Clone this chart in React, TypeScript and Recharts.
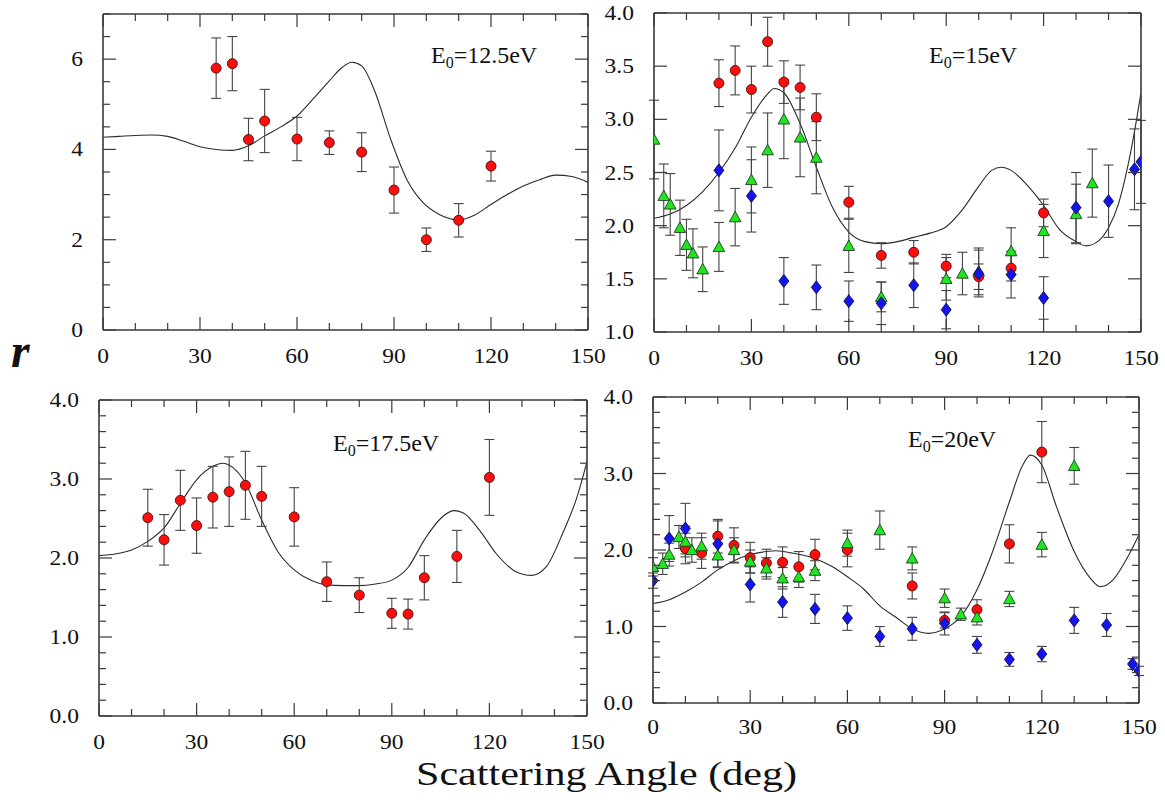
import React from 'react';
import { ComposedChart, Line, Scatter, XAxis, YAxis, ErrorBar } from 'recharts';

const FONT = '"Liberation Serif", "Times New Roman", Times, serif';
const INK = '#3a3a3a';

// ---------- shared ticks ----------
const X_TICKS = [0, 10, 20, 30, 40, 50, 60, 70, 80, 90, 100, 110, 120, 130, 140, 150];
const Y_TICKS_125 = [0, 0.5, 1, 1.5, 2, 2.5, 3, 3.5, 4, 4.5, 5, 5.5, 6, 6.5, 7];
const Y_TICKS_15 = [1, 1.5, 2, 2.5, 3, 3.5, 4];
const Y_TICKS_FINE = [0, 0.2, 0.4, 0.6, 0.8, 1, 1.2, 1.4, 1.6, 1.8, 2, 2.2, 2.4, 2.6, 2.8, 3, 3.2, 3.4, 3.6, 3.8, 4];

// ---------- E0 = 12.5 eV ----------
const e125Angles = [35, 40, 45, 50, 60, 70, 80, 90, 100, 110, 120];
const e125Red = [5.8, 5.9, 4.22, 4.63, 4.23, 4.15, 3.94, 3.1, 2.0, 2.43, 3.63];
const e125RedErr = [0.67, 0.6, 0.47, 0.7, 0.48, 0.26, 0.43, 0.51, 0.26, 0.37, 0.33];
const e125CurveX = [0, 5, 10, 15, 20, 25, 30, 35, 40, 45, 50, 55, 60, 65, 70, 74, 77, 80, 84, 89, 94, 99, 104, 110, 115, 120, 125, 130, 135, 140, 145, 150];
const e125CurveY = [4.27, 4.29, 4.31, 4.32, 4.29, 4.18, 4.06, 4.0, 3.98, 4.08, 4.3, 4.5, 4.74, 5.12, 5.52, 5.82, 5.93, 5.85, 5.3, 4.22, 3.33, 2.82, 2.56, 2.44, 2.55, 2.78, 3.0, 3.19, 3.33, 3.43, 3.4, 3.27];

// ---------- E0 = 15 eV ----------
const e15RedX = [20, 25, 30, 35, 40, 45, 50, 60, 70, 80, 90, 100, 110, 120];
const e15Red = [3.34, 3.46, 3.28, 3.73, 3.35, 3.3, 3.02, 2.22, 1.72, 1.75, 1.62, 1.52, 1.6, 2.12];
const e15RedErr = [0.22, 0.23, 0.22, 0.23, 0.2, 0.21, 0.22, 0.15, 0.12, 0.11, 0.11, 0.12, 0.12, 0.13];
const e15GreenX = [0, 3, 5, 8, 10, 12, 15, 20, 25, 30, 35, 40, 45, 50, 60, 70, 90, 95, 100, 110, 120, 130, 135];
const e15Green = [2.81, 2.28, 2.2, 1.98, 1.82, 1.74, 1.59, 1.8, 2.08, 2.43, 2.71, 3.0, 2.83, 2.64, 1.81, 1.33, 1.5, 1.55, 1.57, 1.76, 1.95, 2.11, 2.4];
const e15GreenErr = [0.37, 0.3, 0.29, 0.26, 0.24, 0.23, 0.21, 0.23, 0.27, 0.31, 0.35, 0.37, 0.37, 0.34, 0.25, 0.14, 0.2, 0.2, 0.22, 0.22, 0.25, 0.28, 0.32];
const e15BlueX = [20, 30, 40, 50, 60, 70, 80, 90, 100, 110, 120, 130, 140, 148, 150];
const e15Blue = [2.52, 2.28, 1.48, 1.42, 1.29, 1.27, 1.44, 1.21, 1.55, 1.54, 1.32, 2.17, 2.23, 2.53, 2.6];
const e15BlueErr = [0.38, 0.34, 0.22, 0.21, 0.19, 0.2, 0.21, 0.18, 0.22, 0.22, 0.2, 0.33, 0.34, 0.38, 0.39];
const e15CurveX = [0, 5, 10, 15, 20, 25, 30, 35, 37, 40, 45, 50, 55, 60, 65, 70, 75, 80, 85, 90, 95, 100, 104, 107, 110, 115, 120, 125, 130, 133, 137, 140, 143, 147, 150];
const e15CurveY = [2.07, 2.11, 2.19, 2.32, 2.5, 2.73, 3.02, 3.24, 3.29, 3.25, 2.96, 2.55, 2.17, 1.94, 1.85, 1.83, 1.85, 1.89, 1.93, 1.99, 2.15, 2.37, 2.52, 2.55, 2.52, 2.38, 2.19, 1.96, 1.85, 1.81, 1.86, 1.98, 2.2, 2.72, 3.25];

// ---------- E0 = 17.5 eV ----------
const e175Angles = [15, 20, 25, 30, 35, 40, 45, 50, 60, 70, 80, 90, 95, 100, 110, 120];
const e175Red = [2.51, 2.23, 2.73, 2.41, 2.77, 2.84, 2.92, 2.78, 2.52, 1.7, 1.53, 1.3, 1.29, 1.75, 2.02, 3.02];
const e175RedErr = [0.36, 0.32, 0.38, 0.35, 0.39, 0.44, 0.43, 0.38, 0.37, 0.25, 0.22, 0.19, 0.19, 0.28, 0.33, 0.48];
const e175CurveX = [0, 5, 10, 15, 20, 25, 30, 35, 38, 41, 45, 50, 55, 60, 65, 70, 75, 80, 85, 90, 95, 100, 105, 109, 112, 117, 122, 128, 133, 137.5, 142.5, 147, 150];
const e175CurveY = [2.03, 2.05, 2.1, 2.21, 2.38, 2.69, 2.99, 3.16, 3.2, 3.15, 2.95, 2.48, 2.08, 1.85, 1.72, 1.66, 1.65, 1.65, 1.67, 1.72, 1.88, 2.23, 2.5, 2.6, 2.57, 2.35, 2.06, 1.83, 1.78, 1.89, 2.31, 2.78, 3.22];

// ---------- E0 = 20 eV ----------
const e20RedX = [10, 15, 20, 25, 30, 35, 40, 45, 50, 60, 80, 90, 100, 110, 120];
const e20Red = [2.02, 1.96, 2.18, 2.06, 1.9, 1.83, 1.84, 1.78, 1.94, 2.0, 1.53, 1.08, 1.22, 2.08, 3.28];
const e20RedErr = [0.2, 0.2, 0.22, 0.23, 0.2, 0.18, 0.2, 0.2, 0.2, 0.22, 0.17, 0.1, 0.13, 0.25, 0.4];
const e20GreenX = [0, 3, 5, 8, 10, 12, 15, 20, 25, 30, 35, 40, 45, 50, 60, 70, 80, 90, 95, 100, 110, 120, 130];
const e20Green = [1.78, 1.82, 1.94, 2.17, 2.11, 2.0, 2.05, 1.93, 2.0, 1.85, 1.76, 1.63, 1.65, 1.73, 2.09, 2.26, 1.89, 1.37, 1.16, 1.12, 1.36, 2.07, 3.1];
const e20GreenErr = [0.12, 0.14, 0.15, 0.15, 0.2, 0.16, 0.17, 0.16, 0.16, 0.15, 0.14, 0.14, 0.14, 0.13, 0.17, 0.25, 0.15, 0.12, 0.08, 0.1, 0.1, 0.16, 0.24];
const e20BlueX = [0, 5, 10, 20, 30, 40, 50, 60, 70, 80, 90, 100, 110, 120, 130, 140, 148, 150];
const e20Blue = [1.6, 2.15, 2.28, 2.08, 1.55, 1.32, 1.23, 1.11, 0.87, 0.97, 1.04, 0.76, 0.57, 0.64, 1.08, 1.02, 0.51, 0.42];
const e20BlueErr = [0.1, 0.3, 0.33, 0.3, 0.23, 0.2, 0.19, 0.16, 0.13, 0.15, 0.15, 0.11, 0.09, 0.1, 0.17, 0.15, 0.07, 0.06];
const e20CurveX = [0, 5, 10, 15, 20, 25, 30, 35, 38, 43, 50, 55, 60, 65, 70, 75, 80, 85, 90, 95, 100, 105, 110, 114, 116.5, 120, 124.5, 130, 135, 138, 142, 146, 150];
const e20CurveY = [1.3, 1.35, 1.45, 1.58, 1.74, 1.86, 1.94, 1.98, 1.99, 1.96, 1.89, 1.79, 1.65, 1.49, 1.27, 1.12, 0.97, 0.91, 0.97, 1.13, 1.48, 2.0, 2.63, 3.1, 3.24, 3.11, 2.57, 1.98, 1.63, 1.52, 1.61, 1.87, 2.2];

type Pt = { x: number; y: number; e?: number };
const zip = (xs: number[], ys: number[], es?: number[]): Pt[] =>
  xs.map((x, i) => ({ x, y: ys[i], e: es ? es[i] : undefined }));

// ---------- markers ----------
const RedCircle = (p: any) => (
  <circle cx={p.cx} cy={p.cy} r={5} fill="#ff0d0d" stroke="#4a1010" strokeWidth={0.9} />
);
const GreenTri = (p: any) => {
  const s = 5.8;
  return (
    <polygon
      points={`${p.cx},${p.cy - s} ${p.cx + s},${p.cy + s * 0.8} ${p.cx - s},${p.cy + s * 0.8}`}
      fill="#1fe61f"
      stroke="#1f3a1f"
      strokeWidth={0.9}
    />
  );
};
const BlueDia = (p: any) => {
  const w = 5, h = 6.5;
  return (
    <polygon
      points={`${p.cx},${p.cy - h} ${p.cx + w},${p.cy} ${p.cx},${p.cy + h} ${p.cx - w},${p.cy}`}
      fill="#1414ee"
      stroke="#10104a"
      strokeWidth={0.9}
    />
  );
};

// ---------- tick renderers ----------
const isMult = (v: number, m: number) => Math.abs(v / m - Math.round(v / m)) < 1e-6;
const MAJ = 13;
const MIN = 7;
const STRETCH = 1.12;

const Label = ({ x, y, anchor, children }: { x: number; y: number; anchor: 'start' | 'middle' | 'end'; children: any }) => (
  <text
    transform={`translate(${x},${y}) scale(${STRETCH},1)`}
    x={0}
    y={0}
    textAnchor={anchor}
    fontSize={21}
    fontFamily={FONT}
    fill="#111"
  >
    {children}
  </text>
);

const makeBottomTick = (labelDy: number) => (p: any) => {
  const v = p.payload.value;
  const major = isMult(v, 30);
  return (
    <g>
      <line x1={p.x} x2={p.x} y1={p.y} y2={p.y - (major ? MAJ : MIN)} stroke={INK} strokeWidth={1.2} />
      {major && (
        <Label x={p.x} y={p.y + labelDy} anchor="middle">
          {v}
        </Label>
      )}
    </g>
  );
};
const TopTick = (p: any) => {
  const v = p.payload.value;
  const major = isMult(v, 30);
  return <line x1={p.x} x2={p.x} y1={p.y} y2={p.y + (major ? MAJ : MIN)} stroke={INK} strokeWidth={1.2} />;
};
const makeLeftTick = (majorStep: number, fmt: (v: number) => string) => (p: any) => {
  const v = p.payload.value;
  const major = isMult(v, majorStep);
  return (
    <g>
      <line x1={p.x} x2={p.x + (major ? MAJ : MIN)} y1={p.y} y2={p.y} stroke={INK} strokeWidth={1.2} />
      {major && (
        <Label x={p.x - 20} y={p.y + 7} anchor="end">
          {fmt(v)}
        </Label>
      )}
    </g>
  );
};
const makeRightTick = (majorStep: number) => (p: any) => {
  const v = p.payload.value;
  const major = isMult(v, majorStep);
  return <line x1={p.x} x2={p.x - (major ? MAJ : MIN)} y1={p.y} y2={p.y} stroke={INK} strokeWidth={1.2} />;
};

const AXIS_LINE = { stroke: INK, strokeWidth: 1.6 };

type PanelProps = {
  left: number;
  top: number;
  width: number;
  height: number;
  plot: { left: number; top: number; right: number; bottom: number };
  yDomain: [number, number];
  yTicks: number[];
  majorStep: number;
  fmt: (v: number) => string;
  labelDy: number;
  curve: Pt[];
  red?: Pt[];
  green?: Pt[];
  blue?: Pt[];
};

function Panel(props: PanelProps) {
  const { left, top, width, height, plot, yDomain, yTicks, majorStep, fmt, labelDy, curve, red, green, blue } = props;
  // each axis occupies 1px, so the margins are reduced by 1 to keep the plot box where we want it
  const margin = {
    left: plot.left - 1,
    top: plot.top - 1,
    right: width - plot.right - 1,
    bottom: height - plot.bottom - 1,
  };
  const errProps = { dataKey: 'e', direction: 'y' as const, width: 5, stroke: '#444', strokeWidth: 1.1 };
  return (
    <div style={{ position: 'absolute', left, top }}>
      <ComposedChart width={width} height={height} margin={margin}>
        <XAxis
          xAxisId="b"
          type="number"
          dataKey="x"
          domain={[0, 150]}
          allowDataOverflow
          ticks={X_TICKS}
          interval={0}
          height={1}
          tickSize={0}
          tickMargin={0}
          tickLine={false}
          axisLine={AXIS_LINE}
          tick={makeBottomTick(labelDy)}
        />
        <XAxis
          xAxisId="t"
          orientation="top"
          type="number"
          dataKey="x"
          domain={[0, 150]}
          allowDataOverflow
          ticks={X_TICKS}
          interval={0}
          height={1}
          tickSize={0}
          tickMargin={0}
          tickLine={false}
          axisLine={AXIS_LINE}
          tick={TopTick}
        />
        <YAxis
          yAxisId="l"
          type="number"
          dataKey="y"
          domain={yDomain}
          allowDataOverflow
          ticks={yTicks}
          interval={0}
          width={1}
          tickSize={0}
          tickMargin={0}
          tickLine={false}
          axisLine={AXIS_LINE}
          tick={makeLeftTick(majorStep, fmt)}
        />
        <YAxis
          yAxisId="r"
          orientation="right"
          type="number"
          dataKey="y"
          domain={yDomain}
          allowDataOverflow
          ticks={yTicks}
          interval={0}
          width={1}
          tickSize={0}
          tickMargin={0}
          tickLine={false}
          axisLine={AXIS_LINE}
          tick={makeRightTick(majorStep)}
        />
        <Line
          xAxisId="b"
          yAxisId="l"
          data={curve}
          dataKey="y"
          type="monotone"
          stroke="#2b2b2b"
          strokeWidth={1.1}
          dot={false}
          activeDot={false}
          isAnimationActive={false}
        />
        {red && (
          <Scatter xAxisId="b" yAxisId="l" data={red} dataKey="y" shape={RedCircle} isAnimationActive={false}>
            <ErrorBar {...errProps} />
          </Scatter>
        )}
        {green && (
          <Scatter xAxisId="b" yAxisId="l" data={green} dataKey="y" shape={GreenTri} isAnimationActive={false}>
            <ErrorBar {...errProps} />
          </Scatter>
        )}
        {blue && (
          <Scatter xAxisId="b" yAxisId="l" data={blue} dataKey="y" shape={BlueDia} isAnimationActive={false}>
            <ErrorBar {...errProps} />
          </Scatter>
        )}
      </ComposedChart>
    </div>
  );
}

const fmtInt = (v: number) => String(v);
const fmt1 = (v: number) => v.toFixed(1);

const Energy = ({ x, y, value }: { x: number; y: number; value: string }) => (
  <text x={x} y={y} fontSize={24} fontFamily={FONT} fill="#111">
    E
    <tspan fontSize={16} dy={5}>
      0
    </tspan>
    <tspan dy={-5}>={value}</tspan>
  </text>
);

export default function App() {
  return (
    <div style={{ position: 'absolute', left: 0, top: 0, width: 1165, height: 804, background: '#fff', overflow: 'hidden' }}>
      <Panel
        left={0}
        top={0}
        width={625}
        height={380}
        plot={{ left: 103, top: 14, right: 588, bottom: 330 }}
        yDomain={[0, 7]}
        yTicks={Y_TICKS_125}
        majorStep={2}
        fmt={fmtInt}
        labelDy={33}
        curve={zip(e125CurveX, e125CurveY)}
        red={zip(e125Angles, e125Red, e125RedErr)}
      />
      <Panel
        left={600}
        top={0}
        width={565}
        height={380}
        plot={{ left: 54, top: 13, right: 541, bottom: 332 }}
        yDomain={[1, 4]}
        yTicks={Y_TICKS_15}
        majorStep={0.5}
        fmt={fmt1}
        labelDy={33}
        curve={zip(e15CurveX, e15CurveY)}
        red={zip(e15RedX, e15Red, e15RedErr)}
        green={zip(e15GreenX, e15Green, e15GreenErr)}
        blue={zip(e15BlueX, e15Blue, e15BlueErr)}
      />
      <Panel
        left={0}
        top={380}
        width={625}
        height={390}
        plot={{ left: 99, top: 20, right: 587, bottom: 336 }}
        yDomain={[0, 4]}
        yTicks={Y_TICKS_FINE}
        majorStep={1}
        fmt={fmt1}
        labelDy={33}
        curve={zip(e175CurveX, e175CurveY)}
        red={zip(e175Angles, e175Red, e175RedErr)}
      />
      <Panel
        left={600}
        top={380}
        width={565}
        height={390}
        plot={{ left: 53, top: 17, right: 539, bottom: 323 }}
        yDomain={[0, 4]}
        yTicks={Y_TICKS_FINE}
        majorStep={1}
        fmt={fmt1}
        labelDy={31}
        curve={zip(e20CurveX, e20CurveY)}
        red={zip(e20RedX, e20Red, e20RedErr)}
        green={zip(e20GreenX, e20Green, e20GreenErr)}
        blue={zip(e20BlueX, e20Blue, e20BlueErr)}
      />
      <svg width={1165} height={804} style={{ position: 'absolute', left: 0, top: 0, pointerEvents: 'none' }}>
        <Energy x={431} y={63} value="12.5eV" />
        <Energy x={929} y={63} value="15eV" />
        <Energy x={333} y={451} value="17.5eV" />
        <Energy x={908} y={447} value="20eV" />
        <text x={11} y={367} fontSize={48} fontStyle="italic" fontWeight="bold" fontFamily={FONT} fill="#111">
          r
        </text>
        <text
          x={416}
          y={785}
          fontSize={34}
          fontFamily={FONT}
          fill="#111"
          textLength={381}
          lengthAdjust="spacingAndGlyphs"
        >
          Scattering Angle (deg)
        </text>
      </svg>
    </div>
  );
}
